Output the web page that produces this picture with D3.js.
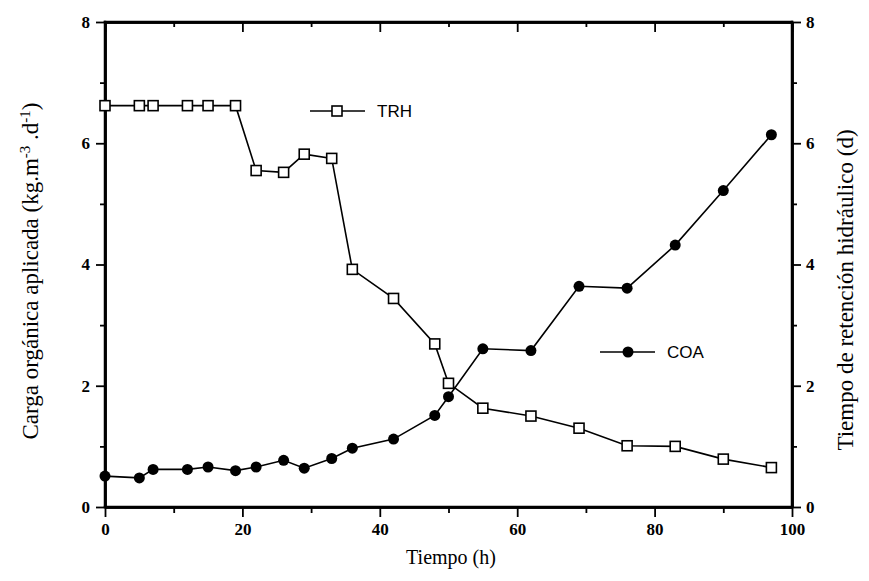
<!DOCTYPE html>
<html><head><meta charset="utf-8">
<script src="https://cdn.jsdelivr.net/npm/d3@7"></script>
<style>body{margin:0;background:#fff}</style>
</head><body>
<svg id="c" width="869" height="581"></svg>
<script>
const trhX = [0,5,7,12,15,19,22,26,29,33,36,42,48,50,55,62,69,76,83,90,97];
const trhY = [6.62,6.62,6.62,6.62,6.62,6.62,5.55,5.52,5.82,5.75,3.92,3.44,2.69,2.04,1.63,1.50,1.30,1.01,1.00,0.79,0.65];
const coaX = [0,5,7,12,15,19,22,26,29,33,36,42,48,50,55,62,69,76,83,90,97];
const coaY = [0.51,0.48,0.62,0.62,0.66,0.60,0.66,0.77,0.64,0.80,0.97,1.12,1.51,1.82,2.61,2.58,3.64,3.61,4.32,5.22,6.14];
const xTicks = [0,20,40,60,80,100];
const yTicks = [0,2,4,6,8];

const svg = d3.select("#c");
const x = d3.scaleLinear().domain([0,100]).range([105,792]);
const y = d3.scaleLinear().domain([0,8]).range([507,22]);
const yR = d3.scaleLinear().domain([0,8]).range([507,22]);
const serif = "'Liberation Serif','Times New Roman',serif";
const sans = "'Liberation Sans',Arial,sans-serif";

function styleAxis(g){
  g.select(".domain").attr("stroke","#000").attr("stroke-width",2.5);
  g.selectAll(".tick line").attr("stroke","#000").attr("stroke-width",1.8);
  g.selectAll("text").attr("font-family",serif).attr("font-size",17).attr("font-weight","bold").attr("fill","#000");
}
const xMinor = d3.range(10,100,20), yMinor = d3.range(1,8,2);

svg.append("g").attr("transform","translate(0,507)")
  .call(d3.axisBottom(x).tickValues(xTicks).tickSize(10).tickPadding(6).tickSizeOuter(0)).call(styleAxis);
svg.append("g").attr("transform","translate(0,507)")
  .call(d3.axisBottom(x).tickValues(xMinor).tickSize(6).tickFormat("").tickSizeOuter(0)).call(styleAxis);
svg.append("g").attr("transform","translate(0,22)")
  .call(d3.axisBottom(x).tickValues(xTicks).tickSize(10).tickFormat("").tickSizeOuter(0)).call(styleAxis);
svg.append("g").attr("transform","translate(0,22)")
  .call(d3.axisBottom(x).tickValues(xMinor).tickSize(5).tickFormat("").tickSizeOuter(0)).call(styleAxis);
svg.append("g").attr("transform","translate(105,0)")
  .call(d3.axisLeft(y).tickValues(yTicks).tickSize(9).tickPadding(6).tickSizeOuter(0)).call(styleAxis);
svg.append("g").attr("transform","translate(105,0)")
  .call(d3.axisLeft(y).tickValues(yMinor).tickSize(5).tickFormat("").tickSizeOuter(0)).call(styleAxis);
svg.append("g").attr("transform","translate(792,0)")
  .call(d3.axisRight(yR).tickValues(yTicks).tickSize(9).tickPadding(5).tickSizeOuter(0)).call(styleAxis);
svg.append("g").attr("transform","translate(792,0)")
  .call(d3.axisRight(yR).tickValues(yMinor).tickSize(5).tickFormat("").tickSizeOuter(0)).call(styleAxis);
// explicit frame lines
const fr = [[x(0),y(0),x(100),y(0)],[x(0),y(8),x(100),y(8)],[x(0),y(0),x(0),y(8)],[x(100),y(0),x(100),y(8)]];
svg.selectAll("line.frame").data(fr).enter().append("line").attr("class","frame")
  .attr("x1",d=>d[0]).attr("y1",d=>d[1]).attr("x2",d=>d[2]).attr("y2",d=>d[3])
  .attr("stroke","#000").attr("stroke-width",2.5).attr("stroke-linecap","square");

const line = d3.line();
svg.append("path").attr("d", line(trhX.map((d,i)=>[x(d),yR(trhY[i])])))
  .attr("fill","none").attr("stroke","#000").attr("stroke-width",1.6);
svg.append("path").attr("d", line(coaX.map((d,i)=>[x(d),y(coaY[i])])))
  .attr("fill","none").attr("stroke","#000").attr("stroke-width",1.6);
svg.selectAll("circle.coa").data(coaX).enter().append("circle")
  .attr("cx",d=>x(d)).attr("cy",(d,i)=>y(coaY[i])).attr("r",5.5).attr("fill","#000");
const sq = 10;
svg.selectAll("rect.trh").data(trhX).enter().append("rect")
  .attr("x",d=>x(d)-sq/2).attr("y",(d,i)=>yR(trhY[i])-sq/2).attr("width",sq).attr("height",sq)
  .attr("fill","#fff").attr("stroke","#000").attr("stroke-width",1.6);

const lg1 = svg.append("g");
lg1.append("line").attr("x1",310).attr("x2",365).attr("y1",111).attr("y2",111).attr("stroke","#000").attr("stroke-width",1.6);
lg1.append("rect").attr("x",337-sq/2).attr("y",111-sq/2).attr("width",sq).attr("height",sq).attr("fill","#fff").attr("stroke","#000").attr("stroke-width",1.6);
lg1.append("text").attr("x",377).attr("y",117).text("TRH").attr("font-family",sans).attr("font-size",17).attr("fill","#000");
const lg2 = svg.append("g");
lg2.append("line").attr("x1",600).attr("x2",655).attr("y1",352).attr("y2",352).attr("stroke","#000").attr("stroke-width",1.6);
lg2.append("circle").attr("cx",628).attr("cy",352).attr("r",5.5).attr("fill","#000");
lg2.append("text").attr("x",667).attr("y",358).text("COA").attr("font-family",sans).attr("font-size",17).attr("fill","#000");

svg.append("text").attr("x",451).attr("y",564).attr("text-anchor","middle").attr("fill","#000")
  .attr("font-family",serif).attr("font-size",20).text("Tiempo (h)");
const lt = svg.append("text").attr("transform","translate(38,271) rotate(-90)").attr("text-anchor","middle")
  .attr("font-family",serif).attr("font-size",23).attr("fill","#000");
lt.append("tspan").text("Carga orgánica aplicada (kg.m");
lt.append("tspan").attr("baseline-shift","super").attr("font-size",15).text("-3");
lt.append("tspan").text(" .d");
lt.append("tspan").attr("baseline-shift","super").attr("font-size",15).text("-1");
lt.append("tspan").text(")");
svg.append("text").attr("transform","translate(853,290) rotate(-90)").attr("text-anchor","middle").attr("fill","#000")
  .attr("font-family",serif).attr("font-size",23).text("Tiempo de retención hidráulico (d)");
</script>
</body></html>
